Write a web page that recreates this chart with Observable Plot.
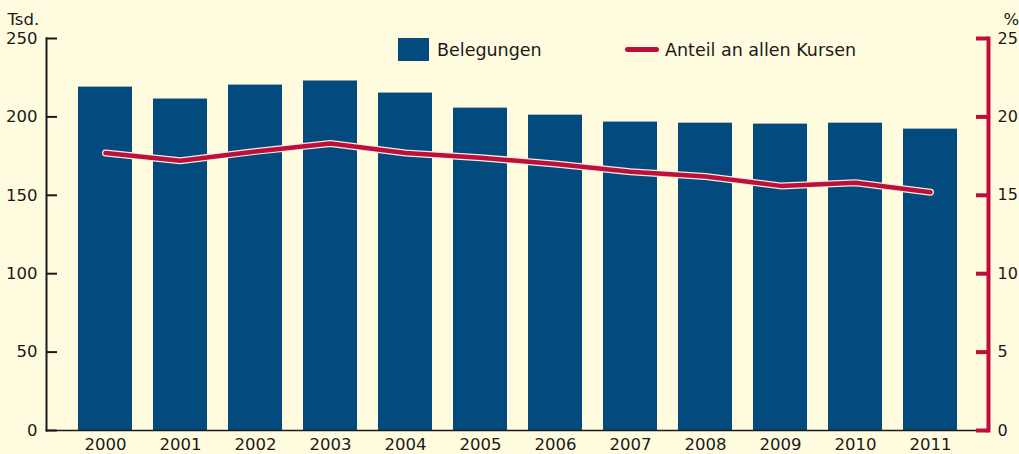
<!DOCTYPE html>
<html>
<head>
<meta charset="utf-8">
<script src="https://cdn.jsdelivr.net/npm/d3@7"></script>
<script src="https://cdn.jsdelivr.net/npm/@observablehq/plot@0.6"></script>
<style>
  html, body { margin: 0; padding: 0; background: #fffbdf; }
  #wrap { position: relative; width: 1019px; height: 454px; font-family: "DejaVu Sans", sans-serif; }
  .legend { position: absolute; top: 38px; height: 23px; display: flex; align-items: center; font-size: 17.5px; color: #1a1a1a; }
  .sw-bar { width: 31px; height: 23px; background: #034a7f; margin-right: 8px; }
  .sw-line { width: 34px; height: 5px; border-radius: 3px; background: #be0f3a; margin-right: 6px; }
</style>
</head>
<body>
<div id="wrap"></div>
<script>
const years = ["2000","2001","2002","2003","2004","2005","2006","2007","2008","2009","2010","2011"];
const belegungen = [219, 211.4, 220.3, 222.9, 215.2, 205.6, 201.1, 196.7, 196.0, 195.4, 196.0, 192.2];
const anteil = [17.7, 17.2, 17.8, 18.3, 17.7, 17.4, 17.0, 16.5, 16.2, 15.6, 15.8, 15.2];
const leftTicks = [0, 50, 100, 150, 200, 250];
const rightTicks = [0, 5, 10, 15, 20, 25];

const blue = "#034a7f";
const red = "#be0f3a";
const bg = "#fffbdf";
const ink = "#1a1a1a";
const ratio = 10; // 25 % corresponds to 250 Tsd.

const W = 1019, H = 454, mL = 46, mR = 31, mT = 38, mB = 24;
const frameW = W - mL - mR;
const fs = 16.5;

const bars = years.map((y, i) => ({year: y, value: belegungen[i]}));
const line = years.map((y, i) => ({year: y, value: anteil[i] * ratio}));
const rightTickPos = rightTicks.map(d => d * ratio);

const chart = Plot.plot({
  width: W,
  height: H,
  marginLeft: mL,
  marginRight: mR,
  marginTop: mT,
  marginBottom: mB,
  style: {background: bg, fontFamily: "'DejaVu Sans', sans-serif", fontSize: fs + "px", color: ink},
  x: {domain: years, paddingInner: 0.28, paddingOuter: 0.42, label: null},
  y: {domain: [0, 250], label: null},
  marks: [
    Plot.barY(bars, {x: "year", y: "value", fill: blue}),
    Plot.lineY(line, {x: "year", y: "value", stroke: "#f6efe0", strokeWidth: 7, strokeLinecap: "round", strokeLinejoin: "round"}),
    Plot.lineY(line, {x: "year", y: "value", stroke: red, strokeWidth: 4.5, strokeLinecap: "round", strokeLinejoin: "round"}),
    // axis lines
    Plot.frame({anchor: "bottom", stroke: ink, strokeWidth: 1.5}),
    Plot.frame({anchor: "left", stroke: ink, strokeWidth: 2}),
    Plot.frame({anchor: "right", stroke: red, strokeWidth: 4}),
    // inward ticks
    Plot.tickY(leftTicks, {y: d => d, stroke: ink, strokeWidth: 2, insetRight: frameW - 11}),
    Plot.tickY(rightTickPos, {y: d => d, stroke: red, strokeWidth: 4, insetLeft: frameW - 12}),
    // tick labels
    Plot.axisX({tickSize: 0, tickPadding: 8, fontSize: fs, fill: ink, label: null}),
    Plot.axisY(leftTicks, {anchor: "left", tickSize: 0, tickPadding: 9, fontSize: fs, fill: ink, label: null}),
    Plot.axisY(rightTickPos, {anchor: "right", tickSize: 0, tickPadding: 9, fontSize: 16, fill: ink, tickFormat: d => d / ratio, label: null}),
    // unit labels
    Plot.text(["Tsd."], {frameAnchor: "top-left", lineAnchor: "bottom", dx: -39, dy: -14, textAnchor: "start", fontSize: fs, fill: ink}),
    Plot.text(["%"], {frameAnchor: "top-right", lineAnchor: "bottom", dx: 15, dy: -14, textAnchor: "start", fontSize: fs, fill: ink})
  ]
});
const wrap = document.getElementById("wrap");
wrap.appendChild(chart);

const l1 = document.createElement("div");
l1.className = "legend";
l1.style.left = "398px";
l1.innerHTML = '<div class="sw-bar"></div><span>Belegungen</span>';
wrap.appendChild(l1);
const l2 = document.createElement("div");
l2.className = "legend";
l2.style.left = "625px";
l2.innerHTML = '<div class="sw-line"></div><span>Anteil an allen Kursen</span>';
wrap.appendChild(l2);
</script>
</body>
</html>
